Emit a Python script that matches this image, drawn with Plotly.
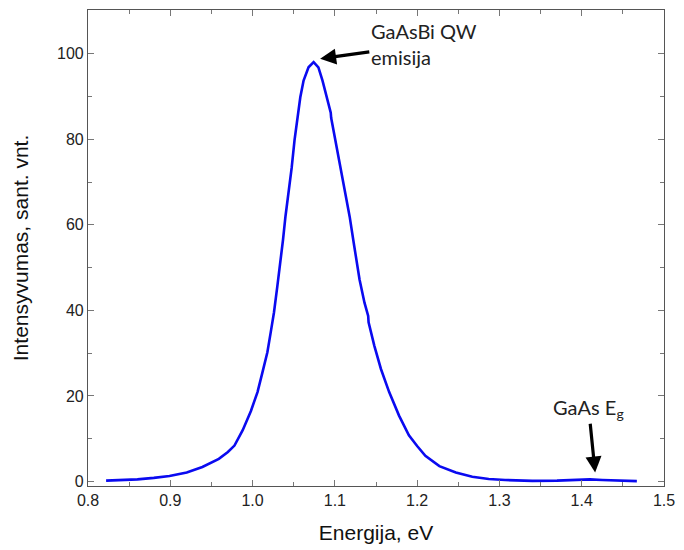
import plotly.graph_objects as go

# Photoluminescence spectrum of a GaAsBi quantum well
energy_ev = [
    0.822, 0.840, 0.860, 0.880, 0.899, 0.920, 0.939, 0.959, 0.970, 0.978,
    0.988, 0.998, 1.006, 1.012, 1.018, 1.022, 1.026, 1.030, 1.034, 1.037,
    1.040, 1.044, 1.047, 1.0475, 1.051, 1.054, 1.058, 1.062, 1.068, 1.0742,
    1.080, 1.085, 1.090, 1.095, 1.0955, 1.100, 1.106, 1.112, 1.118, 1.123,
    1.127, 1.130, 1.136, 1.1405, 1.141, 1.148, 1.156, 1.166, 1.178, 1.190,
    1.200, 1.210, 1.227, 1.247, 1.267, 1.287, 1.307, 1.340, 1.370, 1.395,
    1.410, 1.425, 1.445, 1.467,
]
intensity = [
    0.2, 0.35, 0.5, 0.85, 1.3, 2.1, 3.4, 5.3, 6.9, 8.4,
    12.0, 16.5, 20.9, 25.5, 30.2, 34.8, 39.5, 45.5, 51.5, 56.5,
    62.0, 68.1, 71.5, 73.3, 79.8, 84.4, 89.8, 93.7, 96.8, 98.0,
    96.8, 93.7, 89.8, 86.2, 85.0, 80.5, 74.3, 68.1, 61.9, 55.7,
    50.5, 47.2, 41.8, 38.7, 37.2, 31.7, 26.3, 20.9, 15.4, 10.8,
    8.3, 6.0, 3.6, 2.1, 1.1, 0.6, 0.35, 0.15, 0.2, 0.3,
    0.5, 0.35, 0.2, 0.1,
]

x_ticks = [0.8, 0.9, 1.0, 1.1, 1.2, 1.3, 1.4, 1.5]
y_ticks = [0, 20, 40, 60, 80, 100]

tick_font = dict(family="Liberation Sans Narrow, Liberation Sans, Arial", size=16, color="#222")
title_font = dict(family="Liberation Sans Narrow, Liberation Sans, Arial", size=21, color="#111")
note_font = dict(family="Lato, Open Sans, sans-serif", size=20, color="#222")

fig = go.Figure(
    go.Scatter(
        x=energy_ev,
        y=intensity,
        mode="lines",
        line=dict(color="#0a0af0", width=2.6),
        showlegend=False,
    )
)

axis_common = dict(
    showline=True,
    linecolor="#555",
    linewidth=1.2,
    mirror="ticks",
    ticks="inside",
    ticklen=6,
    tickcolor="#777",
    showgrid=False,
    zeroline=False,
    tickfont=tick_font,
)

fig.update_xaxes(
    range=[0.8, 1.5],
    tickvals=x_ticks,
    ticktext=[f"{v:.1f}" for v in x_ticks],
    minor=dict(dtick=0.05, ticks="inside", ticklen=4, tickcolor="#777", showgrid=False),
    title=dict(text="Energija, eV", font=title_font, standoff=17),
    **axis_common,
)
fig.update_yaxes(
    range=[-1.05, 110.2],
    tickvals=y_ticks,
    minor=dict(dtick=10, ticks="inside", ticklen=4, tickcolor="#777", showgrid=False),
    title=dict(text="Intensyvumas, sant. vnt.", font=title_font, standoff=22),
    **axis_common,
)

# Labelled arrows: (x, y) is the arrow tip, (ax, ay) the label centre, both in data units
label_arrow = dict(
    showarrow=True,
    arrowhead=2,
    arrowsize=1.0,
    arrowwidth=3.2,
    arrowcolor="#000",
    xref="x",
    yref="y",
    axref="x",
    ayref="y",
    xanchor="center",
    yanchor="middle",
    font=note_font,
)

fig.update_layout(
    width=684,
    height=550,
    margin=dict(l=88, r=12, t=9, b=63),
    paper_bgcolor="white",
    plot_bgcolor="white",
    annotations=[
        dict(
            x=1.0821, y=98.8, ax=1.2081, ay=102.2,
            text="GaAsBi QW<br>emisija", align="left", **label_arrow,
        ),
        dict(
            x=1.4163, y=2.1, ax=1.4085, ay=17.0,
            text="GaAs E<sub>g</sub>", **label_arrow,
        ),
    ],
)

fig.write_html("out.html")
